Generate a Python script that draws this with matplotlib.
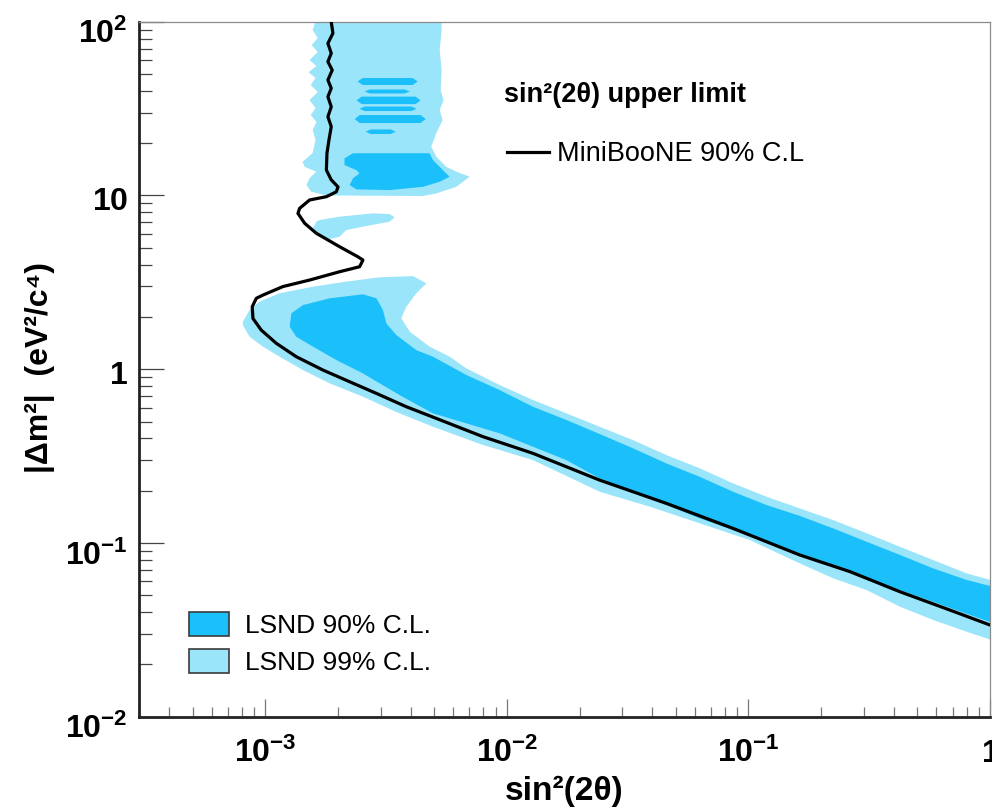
import matplotlib
matplotlib.use("Agg")
import matplotlib.pyplot as plt
import numpy as np
from matplotlib.patches import Patch
from matplotlib.lines import Line2D
from matplotlib.ticker import LogLocator, NullFormatter
from matplotlib.transforms import ScaledTranslation

plt.rcParams['font.family'] = ['Liberation Sans', 'DejaVu Sans']
plt.rcParams['mathtext.fontset'] = 'custom'
plt.rcParams['mathtext.rm'] = 'Liberation Sans'
plt.rcParams['mathtext.bf'] = 'Liberation Sans:bold'
plt.rcParams['mathtext.it'] = 'Liberation Sans:italic'
plt.rcParams['mathtext.sf'] = 'Liberation Sans'

# ---------------- data ----------------
# MiniBooNE 90% C.L. upper limit curve
MB_SIN2 = [0.001875, 0.001905, 0.001816, 0.001875, 0.001816, 0.001893, 0.001816, 0.001875,
           0.001816, 0.001875, 0.001816, 0.001875, 0.001834, 0.00180, 0.00179, 0.001875,
           0.00200, 0.001968, 0.00179, 0.001525, 0.001387, 0.001365, 0.001455, 0.001626,
           0.002031, 0.002416, 0.002536, 0.002458, 0.002031, 0.001525, 0.001183, 0.000977,
           0.000918, 0.000883, 0.000889, 0.000962, 0.00111, 0.001344, 0.001732, 0.002234,
           0.002882, 0.003837, 0.005105, 0.00796, 0.01282, 0.02421, 0.04571, 0.0863,
           0.163, 0.263, 0.4236, 0.682, 1.0]
MB_DM2 = [100, 85.8, 75.1, 65.8, 58.9, 52.7, 46.2, 41.4,
          37.0, 32.4, 28.4, 24.9, 20.8, 17.5, 14.0, 12.3,
          11.2, 10.5, 9.84, 9.42, 8.43, 7.89, 6.92, 6.06,
          5.07, 4.44, 4.25, 3.89, 3.64, 3.26, 2.99, 2.67,
          2.56, 2.29, 1.96, 1.68, 1.41, 1.18, 0.989, 0.847,
          0.726, 0.608, 0.521, 0.409, 0.328, 0.230, 0.169, 0.1213,
          0.0853, 0.0684, 0.0524, 0.0411, 0.0337]

# LSND allowed-region contours, given as log10(sin^2 2theta), log10(dm^2)
LSND99_BAND_LOG_SIN2 = [-3.093, -3.065, -3.024, -2.941, -2.803, -2.665, -2.527, -2.389, -2.333, -2.375,
                        -2.416, -2.437, -2.402, -2.320, -2.237, -2.168, -2.030, -1.892, -1.754, -1.616,
                        -1.478, -1.340, -1.202, -1.064, -0.925, -0.788, -0.650, -0.511, -0.373, -0.236,
                        -0.097, 0.02, 0.02, -0.097, -0.236, -0.373, -0.511, -0.650, -0.788, -0.995,
                        -1.202, -1.409, -1.616, -1.892, -2.099, -2.306, -2.458, -2.596, -2.734, -2.844,
                        -2.941, -3.010, -3.065, -3.093]
LSND99_BAND_LOG_DM2 = [0.273, 0.341, 0.389, 0.437, 0.475, 0.504, 0.529, 0.536, 0.494, 0.437,
                       0.360, 0.293, 0.216, 0.130, 0.072, 0.005, -0.091, -0.177, -0.254, -0.331,
                       -0.408, -0.494, -0.570, -0.657, -0.734, -0.801, -0.868, -0.944, -1.022, -1.098,
                       -1.175, -1.22, -1.565, -1.511, -1.443, -1.367, -1.271, -1.203, -1.117, -0.983,
                       -0.887, -0.791, -0.705, -0.523, -0.436, -0.331, -0.246, -0.158, -0.081, -0.005,
                       0.072, 0.130, 0.187, 0.254]

LSND90_BAND_LOG_SIN2 = [-2.899, -2.892, -2.844, -2.734, -2.596, -2.540, -2.513, -2.499, -2.458, -2.375,
                        -2.306, -2.168, -2.030, -1.892, -1.754, -1.616, -1.478, -1.340, -1.202, -1.064,
                        -0.925, -0.788, -0.650, -0.511, -0.373, -0.236, -0.097, 0.02, 0.02, -0.373,
                        -0.788, -1.202, -1.616, -1.754, -2.030, -2.306, -2.444, -2.596, -2.706, -2.803,
                        -2.872]
LSND90_BAND_LOG_DM2 = [0.245, 0.322, 0.369, 0.408, 0.431, 0.408, 0.341, 0.264, 0.197, 0.110,
                       0.072, -0.033, -0.120, -0.216, -0.292, -0.373, -0.455, -0.542, -0.619, -0.705,
                       -0.782, -0.844, -0.916, -0.993, -1.069, -1.146, -1.213, -1.255, -1.465, -1.271,
                       -1.060, -0.858, -0.628, -0.523, -0.369, -0.254, -0.149, -0.024, 0.053, 0.130,
                       0.187]

LSND99_HIGH_LOG_SIN2 = [-2.789, -2.804, -2.783, -2.808, -2.783, -2.817, -2.788, -2.821, -2.792, -2.812,
                        -2.783, -2.817, -2.792, -2.812, -2.788, -2.804, -2.792, -2.804, -2.846, -2.837,
                        -2.789, -2.817, -2.830, -2.810, -2.747, -2.347, -2.292, -2.209, -2.154, -2.209,
                        -2.251, -2.292, -2.313, -2.292, -2.266, -2.278, -2.262, -2.274, -2.270, -2.278,
                        -2.270, -2.271]
LSND99_HIGH_LOG_DM2 = [2.02, 1.952, 1.906, 1.866, 1.826, 1.780, 1.745, 1.710, 1.676, 1.636,
                       1.595, 1.549, 1.503, 1.463, 1.423, 1.377, 1.319, 1.244, 1.194, 1.165,
                       1.137, 1.099, 1.060, 1.022, 1.000, 0.997, 1.012, 1.050, 1.108, 1.137,
                       1.165, 1.223, 1.281, 1.359, 1.434, 1.492, 1.549, 1.607, 1.722, 1.837,
                       1.952, 2.02]

LSND99_ISLAND_LOG_SIN2 = [-2.775, -2.692, -2.554, -2.485, -2.465, -2.485, -2.582, -2.665, -2.692, -2.747,
                          -2.775, -2.803, -2.789]
LSND99_ISLAND_LOG_DM2 = [0.859, 0.878, 0.897, 0.893, 0.874, 0.849, 0.824, 0.801, 0.763, 0.744,
                         0.772, 0.811, 0.849]

LSND90_HIGH_LOG_SIN2 = [-2.672, -2.637, -2.485, -2.320, -2.306, -2.265, -2.237, -2.278, -2.347, -2.485,
                        -2.623, -2.651, -2.637, -2.610, -2.623, -2.672]
LSND90_HIGH_LOG_DM2 = [1.214, 1.243, 1.243, 1.243, 1.204, 1.146, 1.108, 1.079, 1.050, 1.031,
                       1.035, 1.060, 1.099, 1.127, 1.146, 1.175]

# thin 90% C.L. islands at large dm^2: (log sin2 left, log sin2 right, log dm2 top, log dm2 bottom)
LSND90_STRIPES_LOG = [
    (-2.618, -2.369, 1.676, 1.636),
    (-2.589, -2.402, 1.610, 1.587),
    (-2.622, -2.357, 1.569, 1.526),
    (-2.610, -2.374, 1.512, 1.486),
    (-2.630, -2.336, 1.463, 1.417),
    (-2.585, -2.460, 1.380, 1.354),
]

X_TICKS = [1e-3, 1e-2, 1e-1, 1]
X_TICK_LABELS = [r'$\mathbf{10^{-3}}$', r'$\mathbf{10^{-2}}$', r'$\mathbf{10^{-1}}$', r'$\mathbf{1}$']
Y_TICKS = [1e-2, 1e-1, 1, 10, 100]
Y_TICK_LABELS = [r'$\mathbf{10^{-2}}$', r'$\mathbf{10^{-1}}$', r'$\mathbf{1}$', r'$\mathbf{10}$',
                 r'$\mathbf{10^{2}}$']

DARK = '#1bbffa'
LIGHT = '#9be5fa'

# ---------------- figure ----------------
fig = plt.figure(figsize=(9.92, 8.08), dpi=100)
ax = fig.add_axes([0.1401, 0.1130, 0.8579, 0.8601])
ax.set_xscale('log')
ax.set_yscale('log')
ax.set_xlim(3e-4, 1)
ax.set_ylim(1e-2, 1e2)


def fill_log(lx, ly, color, z):
    ax.fill(10 ** np.asarray(lx), 10 ** np.asarray(ly), facecolor=color,
            edgecolor='none', lw=0, zorder=z)


fill_log(LSND99_BAND_LOG_SIN2, LSND99_BAND_LOG_DM2, LIGHT, 1)
fill_log(LSND99_HIGH_LOG_SIN2, LSND99_HIGH_LOG_DM2, LIGHT, 1)
fill_log(LSND99_ISLAND_LOG_SIN2, LSND99_ISLAND_LOG_DM2, LIGHT, 1)
fill_log(LSND90_BAND_LOG_SIN2, LSND90_BAND_LOG_DM2, DARK, 2)
fill_log(LSND90_HIGH_LOG_SIN2, LSND90_HIGH_LOG_DM2, DARK, 2)
for x0, x1, yt, yb in LSND90_STRIPES_LOG:
    dx = 0.021
    yc = 0.5 * (yt + yb)
    fill_log([x0, x0 + dx, x1 - dx, x1, x1 - dx, x0 + dx],
             [yc, yt, yt, yc, yb, yb], DARK, 2)

ax.plot(MB_SIN2, MB_DM2, color='black', lw=2.3, solid_joinstyle='round',
        solid_capstyle='round', zorder=5)

# ticks
ax.set_xticks(X_TICKS)
ax.set_xticklabels(X_TICK_LABELS)
ax.set_yticks(Y_TICKS)
ax.set_yticklabels(Y_TICK_LABELS)
ax.xaxis.set_minor_locator(LogLocator(base=10, subs=np.arange(2, 10), numticks=30))
ax.yaxis.set_minor_locator(LogLocator(base=10, subs=np.arange(2, 10), numticks=30))
ax.xaxis.set_minor_formatter(NullFormatter())
ax.yaxis.set_minor_formatter(NullFormatter())
ax.tick_params(axis='both', which='both', direction='in', top=False, right=False)
ax.tick_params(axis='y', which='major', length=18, width=0.9, color='#444444', pad=8, labelsize=23)
ax.tick_params(axis='y', which='minor', length=9, width=0.9, color='#444444')
ax.tick_params(axis='x', which='major', length=13, width=0.9, color='#777777', pad=32.5, labelsize=23)
ax.tick_params(axis='x', which='minor', length=7, width=0.9, color='#777777')
for lab in ax.get_xticklabels():
    lab.set_verticalalignment('baseline')
# y labels: baseline below the tick (ROOT-like centring of the whole label box)
for lab, txt in zip(ax.get_yticklabels(), Y_TICK_LABELS):
    lab.set_verticalalignment('baseline')
    drop = 15.6 if '^' in txt else 10.8
    lab.set_transform(lab.get_transform() +
                      ScaledTranslation(0, -drop / 72.0, fig.dpi_scale_trans))

for s in ['left', 'bottom']:
    ax.spines[s].set_linewidth(2.0)
    ax.spines[s].set_color('#222222')
for s in ['top', 'right']:
    ax.spines[s].set_linewidth(0.9)
    ax.spines[s].set_color('#8a8a8a')

ax.set_xlabel('sin²(2θ)', fontsize=24, fontweight='bold', va='center')
ax.xaxis.set_label_coords(0.5, -0.108)
ax.set_ylabel('|Δm²|  (eV²/c⁴)', fontsize=23, fontweight='bold', va='center')
ax.yaxis.set_label_coords(-0.116, 0.502)

# legends
leg1 = ax.legend(handles=[Patch(facecolor=DARK, edgecolor='#3a3a3a', lw=1.2, label='LSND 90% C.L.'),
                          Patch(facecolor=LIGHT, edgecolor='#3a3a3a', lw=1.2, label='LSND 99% C.L.')],
                 loc='upper left', bbox_to_anchor=(0.0588, 0.1507), frameon=False,
                 fontsize=19, handlelength=1.52, handleheight=1.02, handletextpad=0.6,
                 labelspacing=0.42, borderpad=0, borderaxespad=0)
ax.add_artist(leg1)

ax.text(0.4289, 0.8945, 'sin²(2θ) upper limit', transform=ax.transAxes, fontsize=19.5,
        fontweight='bold', ha='left', va='center')
leg2 = ax.legend(handles=[Line2D([], [], color='black', lw=2.3, label='MiniBooNE 90% C.L')],
                 loc='center left', bbox_to_anchor=(0.4324, 0.8097), frameon=False,
                 fontsize=19.5, handlelength=1.55, handletextpad=0.3, borderpad=0, borderaxespad=0)

fig.savefig('out.png', dpi=100)
